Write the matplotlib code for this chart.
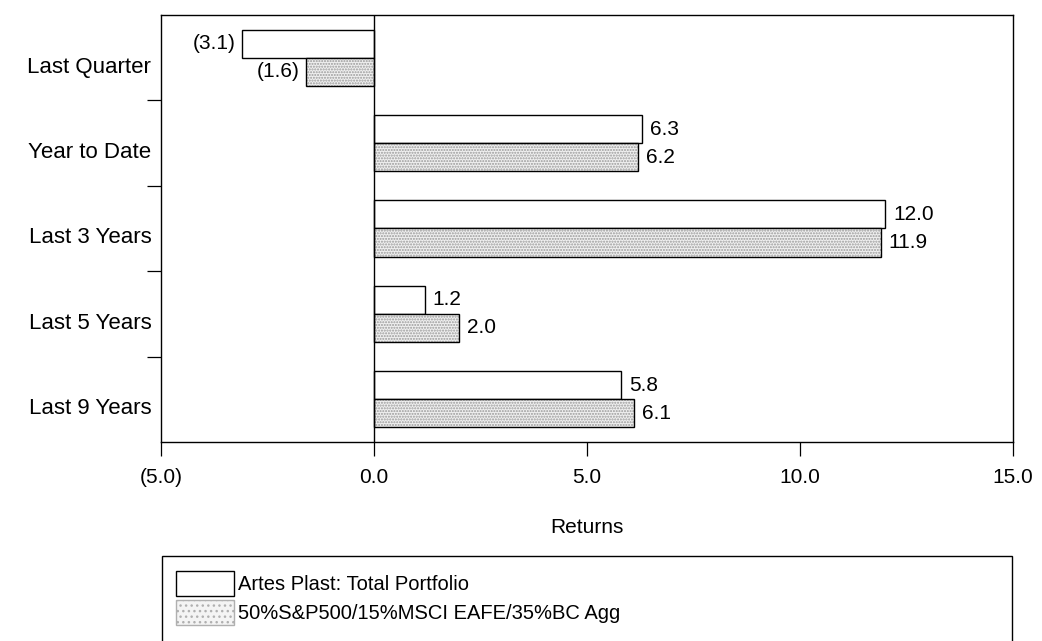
import numpy as np
import matplotlib.pyplot as plt
import matplotlib.patches as mpatches
from matplotlib.transforms import ScaledTranslation

plt.rcParams['font.family'] = ['Liberation Sans', 'DejaVu Sans']

# Дані
categories = ["Last Quarter", "Year to Date", "Last 3 Years", "Last 5 Years", "Last 9 Years"]
portfolio = [-3.1, 6.3, 12.0, 1.2, 5.8]
benchmark = [-1.6, 6.2, 11.9, 2.0, 6.1]
series_names = ["Artes Plast: Total Portfolio", "50%S&P500/15%MSCI EAFE/35%BC Agg"]
x_ticks = [-5, 0, 5, 10, 15]


def fmt(v):
    return f"({abs(v):.1f})" if v < 0 else f"{v:.1f}"


fig = plt.figure(figsize=(10.42, 6.41), dpi=100)
ax = fig.add_axes([0.1545, 0.3105, 0.8177, 0.6661])

pos = np.arange(len(categories))
h = 0.33

# Перша серія - білі стовпці
ax.barh(pos - h / 2, portfolio, height=h, color='white', edgecolor='black', linewidth=1.0)

# Друга серія - сірі з крапками
ax.barh(pos + h / 2, benchmark, height=h, color='#f0f0f0', edgecolor='#9a9a9a',
        hatch='......', linewidth=0)
ax.barh(pos + h / 2, benchmark, height=h, fill=False, edgecolor='black', linewidth=1.0)

# Підписи значень
for i in range(len(categories)):
    for v, y in ((portfolio[i], pos[i] - h / 2), (benchmark[i], pos[i] + h / 2)):
        if v < 0:
            ax.text(v - 0.15, y, fmt(v), ha='right', va='center', fontsize=15)
        else:
            ax.text(v + 0.18, y, fmt(v), ha='left', va='center', fontsize=15)

ax.axvline(0, color='black', linewidth=1.0)

ax.set_xlim(-5, 15)
ax.set_ylim(len(categories) - 0.5, -0.5)
ax.set_xticks(x_ticks)
ax.set_xticklabels([fmt(t) for t in x_ticks])
ax.set_yticks(pos)
ax.set_yticklabels(categories)
ax.set_yticks(pos[:-1] + 0.5, minor=True)
ax.tick_params(axis='y', which='major', length=0, pad=7, labelsize=16)
ax.tick_params(axis='y', which='minor', length=10, width=0.9, direction='out')
ax.tick_params(axis='x', length=10, width=0.9, direction='out', pad=9, labelsize=15)

offset = ScaledTranslation(0, -5 / 72, fig.dpi_scale_trans)
for lbl in ax.get_yticklabels():
    lbl.set_transform(lbl.get_transform() + offset)

for s in ax.spines.values():
    s.set_linewidth(1.0)

ax.set_xlabel("Returns", fontsize=15, labelpad=22)

# Легенда в рамці
frame = mpatches.Rectangle((162 / 1042, -0.05), (1012 - 162) / 1042, 1 - 556 / 641 + 0.05,
                           transform=fig.transFigure, fill=False, edgecolor='black',
                           linewidth=1.0, clip_on=False)
fig.patches.append(frame)

handles = [
    mpatches.Patch(facecolor='white', edgecolor='black', linewidth=1.0),
    mpatches.Patch(facecolor='#f4f4f4', edgecolor='#b0b0b0', hatch='...', linewidth=1.0),
]
fig.legend(handles, series_names, loc='upper left',
           bbox_to_anchor=(176 / 1042, 1 - 571 / 641), frameon=False,
           fontsize=14.5, handlelength=2.9, handleheight=1.55, labelspacing=0.2,
           handletextpad=0.2, borderaxespad=0, borderpad=0)

fig.savefig("out.png", dpi=100)
